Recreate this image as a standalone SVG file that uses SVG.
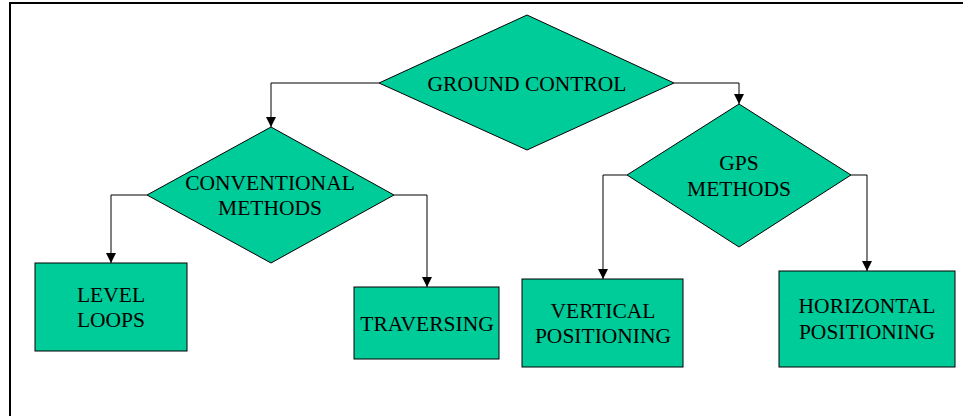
<svg xmlns="http://www.w3.org/2000/svg" width="963" height="416" viewBox="0 0 963 416">
<style>
.n{fill:#00CC99;stroke:#000;stroke-width:1}
.t{font-family:"Liberation Serif","Times New Roman",serif;font-size:21.5px;fill:#000;text-anchor:middle}
.c{fill:none;stroke:#000;stroke-width:1}
</style>
<defs>
<marker id="a" viewBox="0 0 10 10" refX="10" refY="5" markerWidth="10" markerHeight="10" markerUnits="userSpaceOnUse" orient="auto">
<path d="M0,0 L10,5 L0,10 z" fill="#000"/>
</marker>
</defs>
<rect width="963" height="416" fill="#fff"/>
<g id="border" fill="none" stroke="#000" stroke-width="2">
<path d="M10,416 V3 H963"/>
</g>
<g id="connectors">
<path class="c" d="M379,83 H271 V127" marker-end="url(#a)"/>
<path class="c" d="M674,83 H739 V104" marker-end="url(#a)"/>
<path class="c" d="M147,195 H111 V263" marker-end="url(#a)"/>
<path class="c" d="M394,195 H427 V287" marker-end="url(#a)"/>
<path class="c" d="M627,175 H603 V279" marker-end="url(#a)"/>
<path class="c" d="M851,175 H867 V271" marker-end="url(#a)"/>
</g>
<g id="ground-control">
<polygon class="n" points="527,15 674,83 527,150 379,83"/>
<text class="t" x="527" y="91">GROUND CONTROL</text>
</g>
<g id="conventional-methods">
<polygon class="n" points="271,127 394,195 271,263 147,195"/>
<text class="t" x="270" y="190">CONVENTIONAL</text>
<text class="t" x="270" y="215">METHODS</text>
</g>
<g id="gps-methods">
<polygon class="n" points="739,104 851,175 739,247 627,175"/>
<text class="t" x="739" y="170">GPS</text>
<text class="t" x="739" y="196">METHODS</text>
</g>
<g id="level-loops">
<rect class="n" x="35" y="263" width="152" height="88"/>
<text class="t" x="111" y="302">LEVEL</text>
<text class="t" x="111" y="327">LOOPS</text>
</g>
<g id="traversing">
<rect class="n" x="354" y="287" width="145" height="72"/>
<text class="t" x="427" y="331">TRAVERSING</text>
</g>
<g id="vertical-positioning">
<rect class="n" x="522" y="279" width="161" height="88"/>
<text class="t" x="603" y="318">VERTICAL</text>
<text class="t" x="603" y="343">POSITIONING</text>
</g>
<g id="horizontal-positioning">
<rect class="n" x="779" y="271" width="176" height="96"/>
<text class="t" x="867" y="313">HORIZONTAL</text>
<text class="t" x="867" y="339">POSITIONING</text>
</g>
</svg>
